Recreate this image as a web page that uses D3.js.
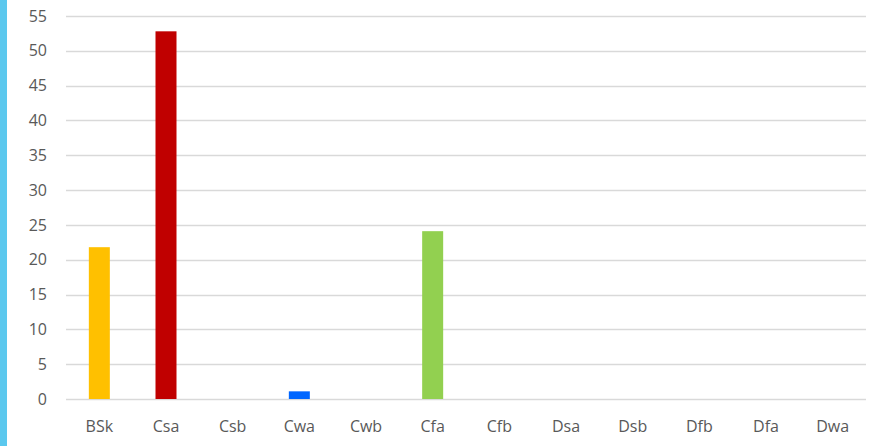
<!DOCTYPE html>
<meta charset="utf-8">
<script src="https://d3js.org/d3.v7.min.js"></script>
<style>
  body { margin: 0; background: #fff; }
</style>
<div id="my_dataviz"></div>
<script>

// data
var categories = ["BSk", "Csa", "Csb", "Cwa", "Cwb", "Cfa", "Cfb", "Dsa", "Dsb", "Dfb", "Dfa", "Dwa"];
var values = [21.8, 52.8, 0, 1.1, 0, 24.1, 0, 0, 0, 0, 0, 0];
var barColors = ["#FFC000", "#C00000", "#C00000", "#0066FF", "#0066FF", "#92D050", "#92D050", "#92D050", "#92D050", "#92D050", "#92D050", "#92D050"];
var yTicks = [0, 5, 10, 15, 20, 25, 30, 35, 40, 45, 50, 55];

var W = 871, H = 446;
var margin = {top: 16, right: 5, bottom: 47, left: 66},
    width = W - margin.left - margin.right,
    height = H - margin.top - margin.bottom;

var root = d3.select("#my_dataviz")
  .append("svg")
    .attr("width", W)
    .attr("height", H);

// blue strip on the left edge
root.append("rect")
    .attr("x", 0).attr("y", 0)
    .attr("width", 7).attr("height", H)
    .style("fill", "#5BC8EE");

var svg = root.append("g")
    .attr("transform", "translate(" + margin.left + "," + margin.top + ")");

var x = d3.scaleBand()
    .domain(categories)
    .range([0, width])
    .paddingInner(0.685)
    .paddingOuter(0.3425);

var y = d3.scaleLinear()
    .domain([0, 55])
    .range([height, 0]);

// gridlines
svg.append("g")
  .selectAll("line")
  .data(yTicks)
  .enter()
  .append("line")
    .attr("x1", 0)
    .attr("x2", width)
    .attr("y1", function(d) { return Math.round(y(d)) + 0.5; })
    .attr("y2", function(d) { return Math.round(y(d)) + 0.5; })
    .style("stroke", "#D9D9D9")
    .style("stroke-width", 1.5);

// y axis labels
var yAxis = svg.append("g")
    .call(d3.axisLeft(y).tickValues(yTicks).tickSize(0).tickPadding(19));
yAxis.select(".domain").remove();
yAxis.selectAll("text")
    .style("font-family", "'Open Sans', sans-serif")
    .style("font-size", "16px")
    .style("fill", "#595959");

// x axis labels
var xAxis = svg.append("g")
    .attr("transform", "translate(0," + height + ")")
    .call(d3.axisBottom(x).tickSize(0).tickPadding(22));
xAxis.select(".domain").remove();
xAxis.selectAll("text")
    .style("font-family", "'Open Sans', sans-serif")
    .style("font-size", "16px")
    .style("fill", "#595959");

// bars
svg.append("g")
  .selectAll("rect")
  .data(values)
  .enter()
  .append("rect")
    .attr("x", function(d, i) { return x(categories[i]); })
    .attr("y", function(d) { return y(d); })
    .attr("width", x.bandwidth())
    .attr("height", function(d) { return height - y(d); })
    .style("fill", function(d, i) { return barColors[i]; });

</script>
